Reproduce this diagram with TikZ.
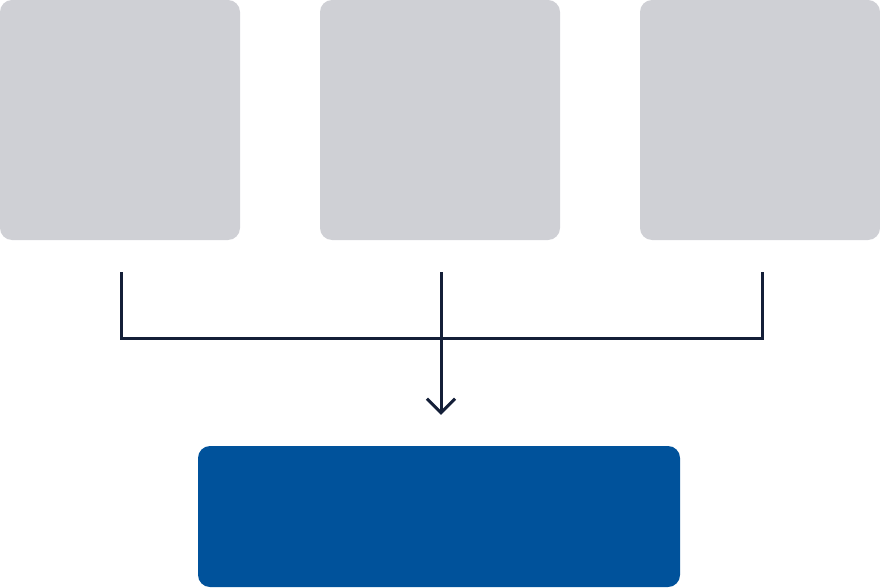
\documentclass[tikz,border=0pt]{standalone}
\usetikzlibrary{arrows.meta}
\definecolor{panelGray}{HTML}{CFD0D5}
\definecolor{targetBlue}{HTML}{00529B}
\definecolor{linkNavy}{HTML}{141F38}
\tikzset{source/.style={fill=panelGray, rounded corners=12pt, inner sep=0pt,
        minimum width=240pt, minimum height=240pt},
    target/.style={fill=targetBlue, rounded corners=12pt, inner sep=0pt,
        minimum width=482pt, minimum height=141pt},
    link/.style={draw=linkNavy, line width=3pt},
    }
\begin{document}
\begin{tikzpicture}[x=1pt, y=-1pt]
	\useasboundingbox (0,0) rectangle (880,588);
	\node[source] (srcA) at (120,120) {};
	\node[source] (srcB) at (440,120) {};
	\node[source] (srcC) at (760,120) {};
	\node[target] (sink) at (439,516.5) {};
	% collecting bar
	\coordinate (barR) at (762,338);
	\draw[link] ([xshift=1pt,yshift=-32pt]srcA.south) |- (barR) -- ([xshift=2pt,yshift=-32pt]srcC.south);
	\draw[link, -{Straight Barb[length=14pt,width=28pt,line width=3pt]}] ([xshift=1pt,yshift=-32pt]srcB.south) -- ([xshift=2pt,yshift=31pt]sink.north);
\end{tikzpicture}
\end{document}
